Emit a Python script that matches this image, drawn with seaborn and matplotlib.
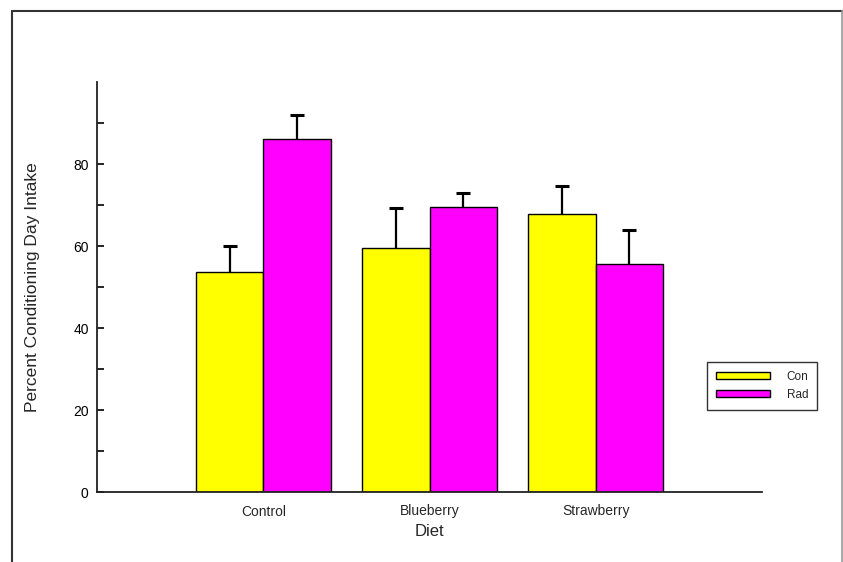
import matplotlib
matplotlib.use("Agg")
import matplotlib.pyplot as plt
from matplotlib.lines import Line2D
from matplotlib.patches import Patch
import seaborn as sns
import pandas as pd
import numpy as np

diets = ["Control", "Blueberry", "Strawberry"]
groups = ["Con", "Rad"]
con_means = [53.7, 59.6, 67.9]
rad_means = [86.0, 69.4, 55.7]
con_err = [6.2, 9.6, 6.8]
rad_err = [6.0, 3.6, 8.2]
yticks_major = [0, 20, 40, 60, 80]
yticks_minor = [10, 30, 50, 70, 90]

sns.set_style("ticks")
plt.rcParams["font.family"] = ["Liberation Sans", "DejaVu Sans"]

df = pd.DataFrame({
    "Diet": diets * 2,
    "Group": ["Con"] * 3 + ["Rad"] * 3,
    "Value": con_means + rad_means,
})
errs = {"Con": con_err, "Rad": rad_err}

fig = plt.figure(figsize=(8.43, 5.62), dpi=100)
ax = fig.add_axes([97 / 843, 1 - 492 / 562, (762 - 97) / 843, (492 - 82) / 562])

palette = {"Con": "#FFFF00", "Rad": "#FF00FF"}
sns.barplot(data=df, x="Diet", y="Value", hue="Group", order=diets, hue_order=groups,
            palette=palette, errorbar=None, width=0.81, edgecolor="black",
            linewidth=1.0, saturation=1, ax=ax, legend=False)

# error bars (upper only) at the bar centres
for gi, g in enumerate(groups):
    cont = ax.containers[gi]
    xs = [p.get_x() + p.get_width() / 2 for p in cont.patches]
    hs = [p.get_height() for p in cont.patches]
    e = errs[g]
    eb = ax.errorbar(xs, hs, yerr=[np.zeros(len(e)), e], fmt="none", ecolor="black",
                     elinewidth=1.6, capsize=5, capthick=2.2, zorder=1)
    caps = eb.lines[1]
    if len(caps) == 2:
        caps[0].set_visible(False)

ax.set_xlim(-1.0, 3.0)
ax.set_ylim(0, 100)
ax.set_yticks(yticks_major)
ax.set_yticks(yticks_minor, minor=True)
ax.tick_params(axis="y", which="both", direction="in", length=5, width=1.2,
               labelsize=10, pad=6, colors="black")
ax.tick_params(axis="x", length=0, labelsize=10, pad=9)
for s in ["top", "right"]:
    ax.spines[s].set_visible(False)
for s in ["left", "bottom"]:
    ax.spines[s].set_linewidth(1.3)
    ax.spines[s].set_color("#222222")
ax.set_ylabel("Percent Conditioning Day Intake", fontsize=12.5, labelpad=24)
ax.set_xlabel("Diet", fontsize=12, labelpad=4)

handles = [Patch(facecolor=palette[g], edgecolor="black", linewidth=1) for g in groups]
leg = fig.legend(handles, groups, loc="upper left", bbox_to_anchor=(707 / 843, 1 - 362 / 562),
                 frameon=True, fancybox=False, shadow=False, fontsize=8.5,
                 handlelength=4.6, handleheight=0.6, borderpad=0.75, labelspacing=0.5,
                 handletextpad=1.4, borderaxespad=0)
leg.get_frame().set_edgecolor("black")
leg.get_frame().set_linewidth(1.0)

# outer frame of the picture
fx0, fx1, fy1 = 12 / 843, 842 / 843, 1 - 11 / 562
fig.add_artist(Line2D([fx0, fx0], [0, fy1], transform=fig.transFigure, color="#333333", lw=1.5))
fig.add_artist(Line2D([fx0, fx1], [fy1, fy1], transform=fig.transFigure, color="#333333", lw=1.5))
fig.add_artist(Line2D([fx1, fx1], [0, fy1], transform=fig.transFigure, color="#999999", lw=1.2))

fig.savefig("out.png", dpi=100)
